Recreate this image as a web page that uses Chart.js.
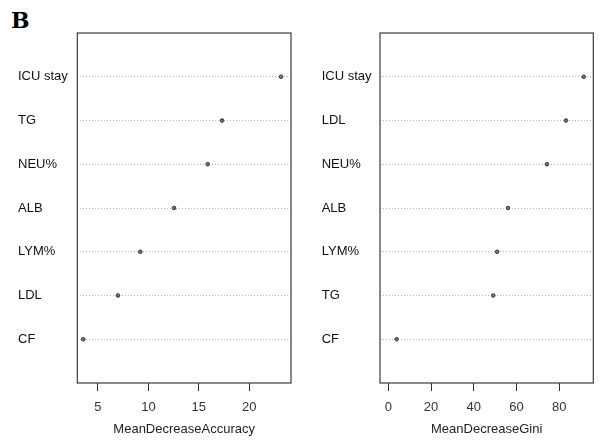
<!DOCTYPE html>
<html>
<head>
<meta charset="utf-8">
<script src="https://cdn.jsdelivr.net/npm/chart.js@4/dist/chart.umd.min.js"></script>
<style>
  body { margin: 0; background: #fff; }
  #wrap { position: relative; width: 601px; height: 440px; overflow: hidden; }
  #wrap canvas { position: absolute; top: 0; }
  #panelTag { position: absolute; left: 11px; top: 7px; font: bold 22px 'DejaVu Serif', 'Liberation Serif', serif; color: #000; }
</style>
</head>
<body>
<div id="wrap">
  <div id="panelTag">B</div>
  <canvas id="accChart" width="300" height="440" style="left:0"></canvas>
  <canvas id="giniChart" width="301" height="440" style="left:300px"></canvas>
</div>
<script>
// 变量名 (从上到下)
const accLabels = ['ICU stay', 'TG', 'NEU%', 'ALB', 'LYM%', 'LDL', 'CF'];
const accValues = [23.15, 17.3, 15.88, 12.54, 9.2, 6.98, 3.54];
const accTicks = [5, 10, 15, 20];

const giniLabels = ['ICU stay', 'LDL', 'NEU%', 'ALB', 'LYM%', 'TG', 'CF'];
const giniValues = [91.4, 83.1, 74.2, 56.0, 50.9, 49.1, 3.9];
const giniTicks = [0, 20, 40, 60, 80];

const fontFamily = "'Liberation Sans', Arial, sans-serif";

// 画外框
const boxPlugin = {
    id: 'boxPlugin',
    afterDraw(chart) {
        const a = chart.chartArea;
        const ctx = chart.ctx;
        ctx.save();
        ctx.strokeStyle = '#3a3a3a';
        ctx.lineWidth = 1.2;
        ctx.strokeRect(a.left, a.top, a.right - a.left, a.bottom - a.top);
        ctx.restore();
    }
};

function makeDotChart(canvasId, labels, values, ticks, xMin, xMax, title, pad, yWidth) {
    const n = labels.length;
    const points = values.map((v, i) => ({ x: v, y: n - i }));
    return new Chart(document.getElementById(canvasId), {
        type: 'scatter',
        data: {
            datasets: [{
                data: points,
                pointRadius: 1.8,
                pointHoverRadius: 1.8,
                borderWidth: 1,
                borderColor: '#333',
                backgroundColor: '#777'
            }]
        },
        options: {
            responsive: false,
            animation: false,
            devicePixelRatio: 1,
            layout: { padding: pad },
            plugins: { legend: { display: false }, tooltip: { enabled: false } },
            scales: {
                x: {
                    type: 'linear',
                    min: xMin,
                    max: xMax,
                    afterBuildTicks: s => { s.ticks = ticks.map(v => ({ value: v })); },
                    afterFit: s => { s.height = 57; },
                    border: { display: false },
                    grid: { drawOnChartArea: false, tickLength: 8, color: '#333', lineWidth: 1 },
                    ticks: { padding: 9, color: '#333', font: { family: fontFamily, size: 13 } },
                    title: {
                        display: true,
                        text: title,
                        color: '#222',
                        padding: { top: 0, bottom: 3 },
                        font: { family: fontFamily, size: 13 }
                    }
                },
                y: {
                    type: 'linear',
                    min: 0,
                    max: n + 1,
                    afterBuildTicks: s => { s.ticks = labels.map((l, i) => ({ value: n - i })); },
                    afterFit: s => { s.width = yWidth; },
                    border: { display: false, dash: [1, 2] },
                    grid: { drawTicks: false, color: '#b4b4b4', lineWidth: 1 },
                    ticks: {
                        crossAlign: 'far',
                        padding: 0,
                        color: '#111',
                        font: { family: fontFamily, size: 13 },
                        callback: v => labels[n - v]
                    }
                }
            }
        },
        plugins: [boxPlugin]
    });
}

makeDotChart('accChart', accLabels, accValues, accTicks, 2.95, 24.14,
    'MeanDecreaseAccuracy', { left: 18, right: 9, top: 33, bottom: 0 }, 59.3);
makeDotChart('giniChart', giniLabels, giniValues, giniTicks, -3.9, 95.9,
    'MeanDecreaseGini', { left: 21.7, right: 7.7, top: 33, bottom: 0 }, 58.3);
</script>
</body>
</html>
